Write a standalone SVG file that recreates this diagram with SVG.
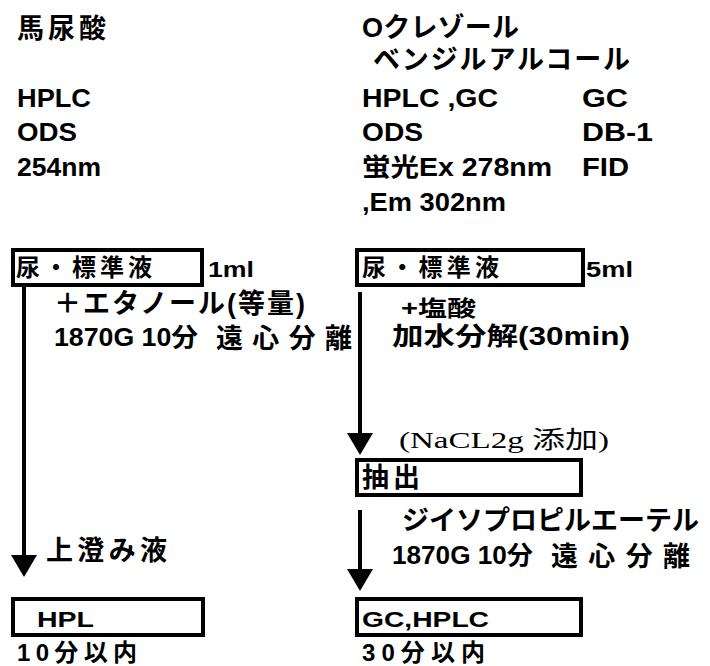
<svg xmlns="http://www.w3.org/2000/svg" width="710" height="666" viewBox="0 0 710 666">
<defs>
<style>
text{font-family:"Liberation Sans","Noto Sans CJK JP",sans-serif;font-weight:bold;font-size:25px;fill:#000}
.c{font-size:27px}
.s22{font-size:22px}
.s24{font-size:24px}
.serif{font-family:"Liberation Serif","Noto Sans CJK JP",serif;font-weight:normal;font-size:24px}
.box{fill:#fff;stroke:#000;stroke-width:4}
.conn line{stroke:#000;stroke-width:4}
</style>
<marker id="arr" viewBox="0 0 22 26" refX="0" refY="13" markerWidth="22" markerHeight="26" markerUnits="userSpaceOnUse" orient="auto">
<path d="M0,0 L22,13 L0,26 Z" fill="#000"/>
</marker>
</defs>
<rect width="710" height="666" fill="#fff"/>

<g id="header-left">
<text class="c" x="17" y="38" textLength="89" lengthAdjust="spacing">馬尿酸</text>
<text x="17" y="107" textLength="74" lengthAdjust="spacingAndGlyphs">HPLC</text>
<text x="17" y="141" textLength="60" lengthAdjust="spacingAndGlyphs">ODS</text>
<text x="17" y="176" textLength="84" lengthAdjust="spacingAndGlyphs">254nm</text>
</g>

<g id="header-right">
<text class="c" x="362" y="37" textLength="157" lengthAdjust="spacing">Oクレゾール</text>
<text class="c" x="373" y="69" textLength="257" lengthAdjust="spacing">ベンジルアルコール</text>
<text x="362" y="107" textLength="136" lengthAdjust="spacingAndGlyphs">HPLC ,GC</text>
<text x="582" y="107" textLength="46" lengthAdjust="spacingAndGlyphs">GC</text>
<text x="362" y="141" textLength="61" lengthAdjust="spacingAndGlyphs">ODS</text>
<text x="582" y="141" textLength="71" lengthAdjust="spacingAndGlyphs">DB-1</text>
<text x="362" y="176" textLength="190" lengthAdjust="spacingAndGlyphs">蛍光Ex 278nm</text>
<text x="582" y="176" textLength="47" lengthAdjust="spacingAndGlyphs">FID</text>
<text x="362" y="211" textLength="144" lengthAdjust="spacingAndGlyphs">,Em 302nm</text>
</g>

<g class="conn" id="connectors">
<line x1="24" y1="287" x2="24" y2="555" marker-end="url(#arr)"/>
<line x1="360" y1="292" x2="360" y2="433" marker-end="url(#arr)"/>
<line x1="360" y1="510" x2="360" y2="569" marker-end="url(#arr)"/>
</g>

<g id="node-urine-left">
<rect class="box" x="13" y="250" width="189" height="35"/>
<text class="s24" x="16" y="276" textLength="136" lengthAdjust="spacing">尿・標準液</text>
<text class="s22" x="208" y="277" textLength="46" lengthAdjust="spacingAndGlyphs">1ml</text>
</g>

<g id="label-ethanol">
<text class="c" x="54" y="313" textLength="251" lengthAdjust="spacing">＋エタノール(等量)</text>
<text x="54" y="346" textLength="144" lengthAdjust="spacingAndGlyphs">1870G 10分</text>
<text class="c" x="216" y="348" textLength="136" lengthAdjust="spacing">遠心分離</text>
</g>

<g id="node-urine-right">
<rect class="box" x="357" y="250" width="226" height="35"/>
<text class="s24" x="362" y="276" textLength="137" lengthAdjust="spacing">尿・標準液</text>
<text class="s22" x="586" y="277" textLength="47" lengthAdjust="spacingAndGlyphs">5ml</text>
</g>

<g id="label-hcl">
<text class="s22" x="401" y="316" textLength="75" lengthAdjust="spacingAndGlyphs">+塩酸</text>
<text x="392" y="345" textLength="238" lengthAdjust="spacingAndGlyphs">加水分解(30min)</text>
</g>

<g id="label-nacl">
<text class="serif" x="399" y="448" textLength="210" lengthAdjust="spacingAndGlyphs">(NaCL2g 添加)</text>
</g>

<g id="node-extract">
<rect class="box" x="357" y="460" width="224" height="35"/>
<text class="c" x="362" y="487" textLength="58" lengthAdjust="spacing">抽出</text>
</g>

<g id="label-ether">
<text class="c" x="402" y="530" textLength="297" lengthAdjust="spacing">ジイソプロピルエーテル</text>
<text x="392" y="564" textLength="141" lengthAdjust="spacingAndGlyphs">1870G 10分</text>
<text class="c" x="551" y="566" textLength="139" lengthAdjust="spacing">遠心分離</text>
</g>

<g id="label-supernatant">
<text class="c" x="46" y="560" textLength="121" lengthAdjust="spacing">上澄み液</text>
</g>

<g id="node-hpl">
<rect class="box" x="13" y="599" width="190" height="36"/>
<text class="s22" x="37" y="627" textLength="57" lengthAdjust="spacingAndGlyphs">HPL</text>
<text class="s24" x="17" y="661" textLength="120" lengthAdjust="spacing">10分以内</text>
</g>

<g id="node-gc-hplc">
<rect class="box" x="357" y="599" width="224" height="36"/>
<text class="s22" x="362" y="627" textLength="127" lengthAdjust="spacingAndGlyphs">GC,HPLC</text>
<text class="s24" x="362" y="661" textLength="123" lengthAdjust="spacing">30分以内</text>
</g>
</svg>
